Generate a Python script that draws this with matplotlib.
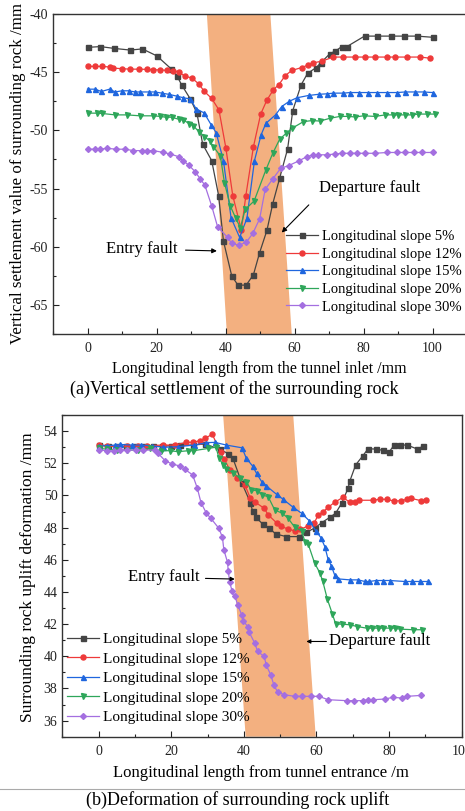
import matplotlib.pyplot as plt
from matplotlib.lines import Line2D
from matplotlib.ticker import MultipleLocator

plt.rcParams['font.family'] = ['Liberation Serif', 'DejaVu Serif']
plt.rcParams['axes.unicode_minus'] = False

labels = ['Longitudinal slope 5%', 'Longitudinal slope 12%', 'Longitudinal slope 15%',
          'Longitudinal slope 20%', 'Longitudinal slope 30%']
colors = ['#444444', '#ee3a3a', '#1f66de', '#2ea65a', '#a46fe0']
markers = ['s', 'o', '^', 'v', 'D']
fault_color = '#f3b080'

# (a) vertical settlement
a5_x = [0, 3.7, 7.8, 12.4, 15.9, 20.1, 24.2, 25.9, 27.3, 29.8, 31.7, 33.4, 36.0, 38.0, 39.4,
        41.8, 43.6, 46.0, 48.1, 49.9, 52.0, 53.7, 55.7, 58.0, 59.5, 61.9, 63.8, 66.3, 67.6,
        70.3, 71.8, 73.7, 75.2, 80.3, 83.9, 88.0, 91.6, 95.5, 100]
a5_y = [-42.87, -42.8, -42.96, -43.1, -43.0, -43.6, -44.7, -45.3, -46.1, -47.3, -48.5, -51.2,
        -52.6, -55.6, -59.5, -62.5, -63.3, -63.3, -62.4, -60.5, -58.6, -56.3, -54.1, -51.6,
        -48.3, -46.1, -45.1, -44.6, -44.2, -43.4, -43.2, -42.8, -42.8, -41.9, -41.9, -41.9,
        -41.9, -41.9, -42.0]
a12_x = [0, 2.2, 4.2, 6.6, 7.5, 10, 12.4, 14.8, 17.2, 19.1, 21.1, 23, 24.9, 26.4, 28.3, 30.2,
         32.2, 33.9, 36.0, 38.1, 40.1, 42.1, 44.6, 45.9, 48.1, 50.2, 52, 53.9, 55.5, 57.3,
         59.2, 62.1, 63.8, 65.5, 67.9, 71.3, 74.2, 77.6, 80.5, 83.4, 86.8, 89.2, 92.6, 96.4, 99.3]
a12_y = [-44.5, -44.5, -44.5, -44.56, -44.65, -44.7, -44.74, -44.74, -44.76, -44.8, -44.8,
         -44.85, -44.88, -44.97, -45.37, -45.48, -46.0, -46.66, -47.26, -48.24, -51.5, -55.6,
         -58.57, -55.6, -51.4, -48.6, -47.4, -46.5, -46.06, -45.3, -44.85, -44.6, -44.4, -44.2,
         -44.05, -43.7, -43.7, -43.7, -43.7, -43.7, -43.7, -43.7, -43.7, -43.7, -43.8]
a15_x = [0, 2.2, 4, 6.4, 8, 10, 11.9, 13.8, 15.3, 17.7, 19.6, 21.5, 23.5, 25.9, 27.8, 29.8,
         31.5, 33.8, 35.8, 37.3, 39.4, 41.6, 44.1, 46.2, 48.4, 50.3, 51.7, 54.5, 56.3, 58.5,
         60.7, 64.1, 67, 69.4, 71.3, 74.2, 76.1, 78.6, 81.4, 83.9, 86.8, 89.7, 92.1, 95, 97.4, 100]
a15_y = [-46.46, -46.46, -46.66, -46.46, -46.7, -46.6, -46.6, -46.7, -46.7, -46.7, -46.7, -46.8,
         -46.9, -47.06, -47.2, -47.3, -48.15, -48.5, -49.5, -50.2, -52.6, -57.5, -59.2, -57.57,
         -52.6, -50.4, -49.4, -48.67, -47.95, -47.5, -47.2, -47.0, -46.9, -46.86, -46.8, -46.8,
         -46.75, -46.75, -46.75, -46.75, -46.75, -46.75, -46.7, -46.7, -46.7, -46.75]
a20_x = [0, 2.7, 4.3, 8, 11.4, 15.3, 18.9, 21.1, 22.7, 24.4, 26.4, 27.8, 29.5, 30.7, 32.2,
         33.9, 35.4, 36.5, 38.5, 39.7, 41.4, 42.9, 44.3, 45.7, 48.3, 51.7, 53.7, 55.7, 57.6,
         59.4, 62.6, 65, 67.4, 70.3, 73.2, 75.6, 77.6, 80, 83.4, 86.3, 88.5, 90.1, 92, 94,
         95.9, 98.4, 100.8]
a20_y = [-48.52, -48.52, -48.55, -48.67, -48.67, -48.75, -48.75, -48.8, -48.87, -48.87, -49.04,
         -49.1, -49.44, -49.6, -50.1, -50.53, -50.9, -51.4, -52.2, -54.5, -56.5, -57.5, -58.37,
         -56.8, -56.07, -53.4, -51.97, -50.76, -50.25, -49.8, -49.25, -49.16, -49.2, -48.96,
         -48.8, -48.8, -48.85, -48.75, -48.8, -48.67, -48.67, -48.67, -48.67, -48.67, -48.6,
         -48.6, -48.6]
a30_x = [0, 2.2, 3.7, 5.6, 8.3, 10.9, 13.3, 15.7, 17.2, 19.1, 22, 24, 26.4, 27.6, 29.3, 31.2,
         32.7, 34, 36, 37.7, 40.6, 41.8, 43.8, 46, 47.9, 49.9, 51.5, 53.7, 56, 58.3, 61.2, 63.6,
         65.5, 66.9, 69.4, 71.8, 73.7, 76.1, 78.1, 80.5, 83.4, 86.8, 89.7, 92.1, 94.5, 96.9, 100]
a30_y = [-51.62, -51.62, -51.62, -51.54, -51.62, -51.62, -51.74, -51.74, -51.74, -51.74, -51.9,
         -52.03, -52.26, -52.6, -52.97, -53.55, -54.18, -54.7, -56.5, -58.28, -59.2, -59.72,
         -59.86, -59.63, -58.86, -57.6, -55.07, -54.18, -53.26, -53.03, -52.63, -52.26, -52.1,
         -52.1, -52.1, -52.03, -51.97, -51.97, -51.97, -51.97, -51.97, -51.9, -51.9, -51.9,
         -51.9, -51.9, -51.9]

# (b) uplift deformation
b5_x = [0, 2.5, 5, 7.5, 10, 12.5, 15, 17.5, 20, 22.4, 26, 29.3, 33.4, 35.7, 37, 39.4, 41.8,
        42.4, 43.3, 45.3, 46.8, 48.8, 51.7, 55.2, 57.2, 59.7, 61.4, 63.7, 65.3, 66.9, 68.7,
        69.2, 70.8, 72.8, 74.2, 76.5, 78.3, 80, 81.4, 82.9, 85, 87.8, 89.4]
b5_y = [53.13, 53.1, 53.05, 53.05, 53.05, 53.05, 53.05, 53.05, 53.1, 53.13, 53.13, 53.2, 52.86,
        52.6, 52.3, 50.8, 49.55, 49.03, 48.64, 48.2, 48.0, 47.6, 47.44, 47.44, 47.7, 48.0, 48.3,
        48.64, 48.9, 49.5, 50.44, 50.9, 51.9, 52.47, 52.9, 52.88, 52.8, 52.7, 53.13, 53.13,
        53.13, 52.88, 53.07]
b12_x = [0, 2.2, 5, 7.9, 10.9, 13.2, 17.8, 21, 24.2, 25.9, 27.9, 29.3, 31.3, 33.6, 34.6, 36.1,
         38, 40.3, 41.8, 43, 45.6, 46.7, 49, 50.1, 52.2, 54, 55.6, 57.7, 59.4, 60.5, 61.7, 63.2,
         65, 67.3, 69.2, 70.6, 71.7, 75.6, 77.4, 79.3, 81.4, 83.2, 85, 86, 88.9, 90.1]
b12_y = [53.13, 53.07, 53.03, 53.07, 53.09, 53.09, 53.13, 53.13, 53.3, 53.3, 53.4, 53.55, 53.8,
         52.68, 52.26, 51.6, 51.1, 50.65, 49.82, 49.6, 49.2, 48.79, 48.3, 48.1, 47.9, 47.8,
         47.9, 48.1, 48.3, 48.79, 48.95, 49.26, 49.57, 49.88, 49.57, 49.57, 49.7, 49.7, 49.76,
         49.76, 49.65, 49.67, 49.76, 49.82, 49.67, 49.7]
b15_x = [0, 2.2, 4.5, 5.9, 9.1, 11.8, 14.6, 17.8, 21.9, 26.3, 29.7, 32, 35.2, 39.5, 40.7, 42.4,
         43.5, 44.9, 46.2, 49, 50.8, 53.6, 55.9, 58, 59.8, 61.2, 62.3, 63.2, 64.1, 65, 66, 69.2,
         71.5, 73.3, 74.5, 76.5, 78.3, 80.2, 84.3, 86.3, 88.4, 90.6]
b15_y = [53.07, 53.09, 53.13, 53.17, 53.13, 53.13, 53.09, 52.99, 53.03, 53.13, 53.28, 53.3,
         53.13, 52.96, 52.3, 51.83, 51.37, 50.86, 50.59, 50.07, 49.76, 49.26, 48.89, 48.43,
         47.81, 47.38, 46.82, 46.03, 45.62, 45.06, 44.81, 44.75, 44.75, 44.65, 44.65, 44.71,
         44.71, 44.71, 44.65, 44.65, 44.65, 44.65]
b20_x = [0, 2.2, 5, 7.7, 10.9, 14.1, 17.3, 19.6, 21.9, 24.7, 26.1, 30.2, 32.3, 33.2, 34.3, 35,
         37.1, 38.9, 40.6, 42.1, 43.5, 45.1, 46.7, 48.5, 50.6, 52.2, 54, 55.9, 56.8, 57.7, 59.5,
         60.9, 61.7, 63, 64.4, 65.3, 66.9, 69.2, 71.2, 73.8, 75.4, 77, 78.3, 80.2, 81.6, 82.9,
         86.6, 89.2]
b20_y = [52.92, 52.88, 52.82, 52.82, 52.82, 52.92, 52.78, 52.78, 52.72, 52.78, 52.78, 52.92,
         53.0, 52.3, 51.9, 51.64, 51.41, 51.06, 50.86, 50.34, 50.3, 50.03, 49.92, 49.1, 48.89,
         48.58, 48.02, 47.8, 47.13, 46.99, 45.79, 45.2, 44.69, 43.55, 42.62, 42.0, 42.0, 41.96,
         41.85, 41.75, 41.75, 41.75, 41.75, 41.75, 41.75, 41.69, 41.65, 41.65]
b30_x = [0, 2.4, 4.3, 5.9, 7.7, 10.3, 12.3, 15.5, 16.4, 18.4, 20.3, 22.4, 23.8, 25.9, 27.2,
         28.2, 29.7, 30.9, 33.1, 34.1, 34.5, 35.5, 35.7, 36.1, 36.8, 37.5, 38.3, 39.4, 39.8,
         41.2, 41.5, 43, 43.8, 45.6, 46.2, 47.4, 48.3, 49.3, 51.1, 54, 56.1, 58.4, 60.7, 63.2,
         68.3, 70.4, 72.8, 74.2, 75.6, 78.8, 81.1, 83.6, 85, 88.9]
b30_y = [52.82, 52.78, 52.76, 52.82, 52.82, 52.82, 52.82, 52.82, 52.61, 52.14, 51.95, 51.83,
         51.62, 51.27, 50.44, 49.55, 48.89, 48.58, 47.96, 47.4, 46.61, 45.85, 45.33, 44.6, 44.03,
         43.76, 43.2, 42.58, 42.21, 41.81, 41.48, 40.82, 40.3, 39.99, 39.43, 38.85, 38.19,
         37.78, 37.61, 37.51, 37.51, 37.51, 37.51, 37.3, 37.24, 37.24, 37.24, 37.3, 37.3, 37.34,
         37.45, 37.4, 37.51, 37.57]

# fault zone edges: (x at top, x at bottom) for the left and right edge
fault_a = [(34.6, 40.4), (53.0, 59.2)]
fault_b = [(34.3, 40.5), (53.6, 59.8)]

W, H = 465, 811
fig = plt.figure(figsize=(W / 100, H / 100), dpi=100)


def px(x, y):
    return x / W, 1 - y / H


def style_axes(ax, ymaj, ymin):
    ax.xaxis.set_major_locator(MultipleLocator(20))
    ax.xaxis.set_minor_locator(MultipleLocator(10))
    ax.yaxis.set_major_locator(MultipleLocator(ymaj))
    ax.yaxis.set_minor_locator(MultipleLocator(ymin))
    ax.tick_params(which='both', direction='in', labelsize=10, colors='#222222')
    ax.tick_params(which='major', length=4, width=0.8)
    ax.tick_params(which='minor', length=2.5, width=0.8)
    ax.tick_params(axis='x', pad=6)
    for s in ax.spines.values():
        s.set_color('#333333')
        s.set_linewidth(1.0)


def draw_fault(ax, edges, ylo, yhi):
    (lt, lb), (rt, rb) = edges
    ax.fill([lt, rt, rb, lb], [yhi, yhi, ylo, ylo], color=fault_color, lw=0, zorder=1)


# ---- panel (a)
axa = fig.add_axes([53 / W, 1 - 334 / H, 414 / W, 320 / H])
axa.set_xlim(-10, 110)
axa.set_ylim(-67.5, -40)
draw_fault(axa, fault_a, -67.5, -40)
series_a = [(a5_x, a5_y), (a12_x, a12_y), (a15_x, a15_y), (a20_x, a20_y), (a30_x, a30_y)]
for (xs, ys), c, m, lab in zip(series_a, colors, markers, labels):
    axa.plot(xs, ys, color=c, marker=m, ms=3.6 if m != 'D' else 3.0, lw=0.9,
             label=lab, zorder=3)
style_axes(axa, 5, 2.5)
axa.spines['right'].set_visible(False)
axa.annotate('Entry fault', xy=(37.5, -60.36), xytext=(26, -60.2), fontsize=12,
             ha='right', va='center',
             arrowprops=dict(arrowstyle='-|>', color='black', lw=0.8, mutation_scale=7,
                             shrinkA=4, shrinkB=0))
axa.annotate('Departure fault', xy=(56.3, -58.78), xytext=(67.2, -54.93), fontsize=12,
             ha='left', va='center',
             arrowprops=dict(arrowstyle='-|>', color='black', lw=0.8, mutation_scale=7,
                             shrinkA=8, shrinkB=0, relpos=(0, 0.1)))
axa.legend(loc='upper left', bbox_to_anchor=px(286, 230), bbox_transform=fig.transFigure,
           frameon=False, fontsize=10.5, handlelength=2.2, handletextpad=0.25,
           labelspacing=0.3, borderpad=0, borderaxespad=0)
fig.text(*px(18, 174), 'Vertical settlement value of surrounding rock /mm', rotation=90,
         ha='center', va='center', fontsize=12.2)
fig.text(*px(259, 369), 'Longitudinal length from the tunnel inlet /mm',
         ha='center', va='center', fontsize=11.5)
fig.text(*px(234, 389), '(a)Vertical settlement of the surrounding rock',
         ha='center', va='center', fontsize=13)

# ---- panel (b)
axb = fig.add_axes([62.3 / W, 1 - 736.7 / H, 399.4 / W, 321.7 / H])
axb.set_xlim(-10, 100)
axb.set_ylim(35, 55)
draw_fault(axb, fault_b, 35, 55)
series_b = [(b5_x, b5_y), (b12_x, b12_y), (b15_x, b15_y), (b20_x, b20_y), (b30_x, b30_y)]
for (xs, ys), c, m, lab in zip(series_b, colors, markers, labels):
    axb.plot(xs, ys, color=c, marker=m, ms=3.6 if m != 'D' else 3.0, lw=0.9,
             label=lab, zorder=3)
style_axes(axb, 2, 1)
axb.annotate('Entry fault', xy=(37.5, 44.8), xytext=(27.9, 44.9), fontsize=12,
             ha='right', va='center',
             arrowprops=dict(arrowstyle='-|>', color='black', lw=0.8, mutation_scale=6,
                             shrinkA=2, shrinkB=0))
axb.annotate('Departure fault', xy=(57.2, 40.92), xytext=(63.5, 40.92), fontsize=12,
             ha='left', va='center',
             arrowprops=dict(arrowstyle='-|>', color='black', lw=0.8, mutation_scale=6,
                             shrinkA=0, shrinkB=0))
axb.legend(loc='upper left', bbox_to_anchor=px(66.7, 632.5), bbox_transform=fig.transFigure,
           frameon=False, fontsize=11, handlelength=2.1, handletextpad=0.25,
           labelspacing=0.38, borderpad=0, borderaxespad=0)
fig.text(*px(28, 577), 'Surrounding rock uplift deformation /mm', rotation=90,
         ha='center', va='center', fontsize=12.5)
fig.text(*px(261, 773), 'Longitudinal length from tunnel entrance /m',
         ha='center', va='center', fontsize=12)
fig.add_artist(Line2D([0, 1], [1 - 788.5 / H] * 2, color='#aaaaaa', lw=0.8))
fig.text(*px(238, 800), '(b)Deformation of surrounding rock uplift',
         ha='center', va='center', fontsize=13)

fig.savefig('out.png', dpi=100)
